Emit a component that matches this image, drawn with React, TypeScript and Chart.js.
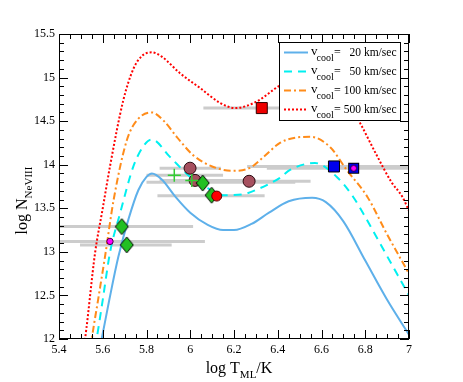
import React, { useEffect, useRef } from "react";
import { Chart, registerables } from "chart.js";

Chart.register(...registerables);

// ---------- axis ranges / ticks ----------
const X_MIN = 5.4;
const X_MAX = 7;
const Y_MIN = 12;
const Y_MAX = 15.5;
const X_MAJOR = 0.2;
const X_MINOR = 0.05;
const Y_MAJOR = 0.5;
const Y_MINOR = 0.1;

// ---------- model curves (log T, log N) ----------
const v20T = [5.585, 5.595, 5.63, 5.671, 5.717, 5.763, 5.8, 5.825, 5.87, 5.93, 6.0, 6.08, 6.15, 6.2, 6.28, 6.36, 6.45, 6.557, 6.62, 6.7, 6.8, 6.9, 7.0];
const v20N = [11.88, 12.0, 12.45, 12.94, 13.37, 13.71, 13.86, 13.9, 13.83, 13.64, 13.45, 13.31, 13.25, 13.25, 13.32, 13.45, 13.58, 13.62, 13.57, 13.35, 12.9, 12.45, 12.05];

const v50T = [5.565, 5.572, 5.6, 5.633, 5.68, 5.74, 5.785, 5.824, 5.907, 6.0, 6.08, 6.15, 6.24, 6.3, 6.41, 6.456, 6.57, 6.67, 6.745, 6.8, 6.9, 7.0];
const v50N = [11.9, 12.0, 12.45, 12.99, 13.45, 13.98, 14.21, 14.29, 14.09, 13.86, 13.73, 13.65, 13.66, 13.71, 13.85, 13.94, 14.02, 13.86, 13.63, 13.4, 12.95, 12.5];

const v100T = [5.545, 5.55, 5.58, 5.61, 5.65, 5.71, 5.76, 5.824, 5.88, 5.938, 6.013, 6.1, 6.19, 6.27, 6.34, 6.41, 6.48, 6.55, 6.64, 6.715, 6.81, 6.9, 7.0];
const v100N = [11.9, 12.0, 12.47, 12.94, 13.6, 14.28, 14.52, 14.6, 14.5, 14.32, 14.11, 13.98, 13.93, 13.96, 14.1, 14.25, 14.31, 14.32, 14.2, 13.94, 13.63, 13.2, 12.75];

const v500T = [5.512, 5.519, 5.565, 5.6, 5.633, 5.694, 5.74, 5.78, 5.824, 5.87, 5.953, 6.045, 6.136, 6.205, 6.3, 6.41, 6.5, 6.58, 6.66, 6.72, 6.776, 6.85, 6.92, 6.97, 7.0];
const v500N = [11.9, 12.0, 12.99, 13.5, 13.98, 14.74, 15.1, 15.25, 15.29, 15.24, 15.05, 14.88, 14.71, 14.65, 14.72, 14.91, 15.02, 15.03, 14.9, 14.72, 14.48, 14.12, 13.8, 13.63, 13.47];

// ---------- observations ----------
const roseT = [5.999, 6.022, 6.269];
const roseN = [13.96, 13.82, 13.81];
const plusT = [5.927, 6.007];
const plusN = [13.88, 13.82];
const diamondT = [5.687, 5.71, 6.057, 6.098];
const diamondN = [13.29, 13.08, 13.79, 13.65];
const redCircleT = [6.121];
const redCircleN = [13.64];
const magentaT = [5.633];
const magentaN = [13.12];
const redSquareT = [6.327];
const redSquareN = [14.65];
const blueSquareT = [6.657];
const blueSquareN = [13.98];
const blueDotSquareT = [6.747];
const blueDotSquareN = [13.96];

// horizontal temperature ranges
const rangeLo = [5.86, 5.8, 5.86, 5.8, 6.2, 5.85, 5.3, 5.3, 5.496, 6.06, 6.26, 6.35];
const rangeHi = [6.14, 6.15, 6.3, 6.48, 6.55, 6.34, 6.013, 6.067, 5.915, 6.45, 7.1, 7.1];
const rangeN = [13.96, 13.88, 13.82, 13.8, 13.81, 13.645, 13.29, 13.12, 13.08, 14.65, 13.98, 13.96];

// ---------- legend ----------
const legendValues = ["20 km/sec", "50 km/sec", "100 km/sec", "500 km/sec"];
const legendColors = ["#5eb0ea", "#00f0f0", "#ff8c1a", "#ff0000"];
const legendDashes: number[][] = [[], [8, 6], [7, 3, 2, 3], [2, 2]];
const legendWidths = [2, 2, 2, 2];

const SERIF = "'Liberation Serif', 'DejaVu Serif', serif";

const pts = (xs: number[], ys: number[]) => xs.map((x, i) => ({ x, y: ys[i] }));

function makeDiamond() {
  const c = document.createElement("canvas");
  c.width = 15;
  c.height = 18;
  const g = c.getContext("2d")!;
  g.beginPath();
  g.moveTo(7.5, 1);
  g.lineTo(14, 9);
  g.lineTo(7.5, 17);
  g.lineTo(1, 9);
  g.closePath();
  g.fillStyle = "#22c022";
  g.fill();
  g.strokeStyle = "#000";
  g.lineWidth = 1;
  g.stroke();
  return c;
}

function makeDotSquare() {
  const c = document.createElement("canvas");
  c.width = 13;
  c.height = 13;
  const g = c.getContext("2d")!;
  g.fillStyle = "#0000ee";
  g.fillRect(1, 1, 11, 11);
  g.strokeStyle = "#000";
  g.lineWidth = 1;
  g.strokeRect(1.5, 1.5, 10, 10);
  g.beginPath();
  g.arc(6.5, 6.5, 3, 0, Math.PI * 2);
  g.fillStyle = "#ff00ff";
  g.fill();
  g.lineWidth = 0.8;
  g.stroke();
  return c;
}

const framePlugin = {
  id: "frameTicks",
  afterDatasetsDraw(chart: any) {
    const { ctx, chartArea, scales } = chart;
    const { left, right, top, bottom } = chartArea;
    const xs = scales.x;
    const ys = scales.y;
    ctx.save();
    ctx.strokeStyle = "#000";
    ctx.lineWidth = 1;
    ctx.beginPath();
    const nX = Math.round((X_MAX - X_MIN) / X_MINOR);
    const perX = Math.round(X_MAJOR / X_MINOR);
    for (let i = 0; i <= nX; i++) {
      const px = Math.round(xs.getPixelForValue(X_MIN + i * X_MINOR)) + 0.5;
      const len = i % perX === 0 ? 9 : 5;
      ctx.moveTo(px, bottom);
      ctx.lineTo(px, bottom - len);
      ctx.moveTo(px, top);
      ctx.lineTo(px, top + len);
    }
    const nY = Math.round((Y_MAX - Y_MIN) / Y_MINOR);
    const perY = Math.round(Y_MAJOR / Y_MINOR);
    for (let i = 0; i <= nY; i++) {
      const py = Math.round(ys.getPixelForValue(Y_MIN + i * Y_MINOR)) + 0.5;
      const len = i % perY === 0 ? 9 : 5;
      ctx.moveTo(left, py);
      ctx.lineTo(left + len, py);
      ctx.moveTo(right, py);
      ctx.lineTo(right - len, py);
    }
    ctx.stroke();
    ctx.strokeRect(left + 0.5, top + 0.5, right - left - 1, bottom - top - 1);
    ctx.restore();
  },
  afterDraw(chart: any) {
    const { ctx, chartArea } = chart;
    const { left, right, top, bottom } = chartArea;
    ctx.save();
    ctx.fillStyle = "#000";
    ctx.textBaseline = "alphabetic";

    // x title: log T_ML/K
    const main = `16px ${SERIF}`;
    const sub = `11px ${SERIF}`;
    ctx.font = main;
    const w1 = ctx.measureText("log T").width;
    const w3 = ctx.measureText("/K").width;
    ctx.font = sub;
    const w2 = ctx.measureText("ML").width;
    const x0 = (left + right) / 2 + 5 - (w1 + w2 + w3) / 2;
    const yb = bottom + 34;
    ctx.font = main;
    ctx.fillText("log T", x0, yb);
    ctx.font = sub;
    ctx.fillText("ML", x0 + w1, yb + 5);
    ctx.font = main;
    ctx.fillText("/K", x0 + w1 + w2, yb);

    // y title: log N_NeVIII
    ctx.save();
    ctx.translate(left - 32, (top + bottom) / 2 + 14);
    ctx.rotate(-Math.PI / 2);
    ctx.font = main;
    const a1 = ctx.measureText("log N").width;
    ctx.font = sub;
    const a2 = ctx.measureText("NeVIII").width;
    const s0 = -(a1 + a2) / 2;
    ctx.font = main;
    ctx.fillText("log N", s0, 0);
    ctx.font = sub;
    ctx.fillText("NeVIII", s0 + a1, 5);
    ctx.restore();

    // legend
    const bx = right - 129.5;
    const by = top + 8.5;
    const bw = 121;
    const bh = 78;
    ctx.fillStyle = "#fff";
    ctx.fillRect(bx, by, bw, bh);
    ctx.strokeStyle = "#000";
    ctx.lineWidth = 1;
    ctx.strokeRect(bx, by, bw, bh);
    for (let i = 0; i < legendValues.length; i++) {
      const ry = by + 10 + i * 19;
      ctx.save();
      ctx.strokeStyle = legendColors[i];
      ctx.lineWidth = legendWidths[i];
      ctx.setLineDash(legendDashes[i]);
      ctx.beginPath();
      ctx.moveTo(bx + 4.5, ry);
      ctx.lineTo(bx + 28.5, ry);
      ctx.stroke();
      ctx.restore();
      ctx.fillStyle = "#000";
      ctx.font = `13px ${SERIF}`;
      ctx.textAlign = "left";
      ctx.fillText("v", bx + 31.5, ry + 2);
      ctx.font = `10px ${SERIF}`;
      ctx.fillText("cool", bx + 37, ry + 8);
      ctx.font = `12px ${SERIF}`;
      ctx.fillText("=", bx + 54.5, ry + 3);
      ctx.font = `11.5px ${SERIF}`;
      ctx.textAlign = "right";
      ctx.fillText(legendValues[i], bx + bw - 4, ry + 3);
      ctx.textAlign = "left";
    }
    ctx.restore();
  },
};

export default function App() {
  const ref = useRef<HTMLCanvasElement | null>(null);

  useEffect(() => {
    if (!ref.current) return;
    const diamond = makeDiamond();
    const dotSquare = makeDotSquare();

    const curve = (xs: number[], ys: number[], i: number) => ({
      label: legendValues[i],
      data: pts(xs, ys),
      showLine: true,
      borderColor: legendColors[i],
      borderWidth: legendWidths[i],
      borderDash: legendDashes[i],
      pointRadius: 0,
      cubicInterpolationMode: "monotone" as const,
      clip: 0,
      order: 10,
    });

    const ranges = rangeN.map((n, i) => ({
      label: "range" + i,
      data: [
        { x: rangeLo[i], y: n },
        { x: rangeHi[i], y: n },
      ],
      showLine: true,
      borderColor: "#cccccc",
      borderWidth: 3,
      pointRadius: 0,
      clip: 0,
      order: 20,
    }));

    const markers = (
      label: string,
      xs: number[],
      ys: number[],
      style: any,
      radius: number,
      fill: string,
      border: string,
      bw: number,
      order: number
    ) => ({
      label,
      data: pts(xs, ys),
      showLine: false,
      pointStyle: style,
      pointRadius: radius,
      pointBackgroundColor: fill,
      pointBorderColor: border,
      pointBorderWidth: bw,
      clip: false,
      order,
    });

    const chart = new Chart(ref.current, {
      type: "scatter",
      data: {
        datasets: [
          markers("rose", roseT, roseN, "circle", 6, "#a6505f", "#2a0a10", 1, 6),
          markers("diamond", diamondT, diamondN, diamond, 8, "#22c022", "#000", 1, 5),
          markers("plus", plusT, plusN, "cross", 6.5, "#33cc33", "#33cc33", 1.5, 4),
          markers("redCircle", redCircleT, redCircleN, "circle", 5, "#ff0000", "#600000", 1, 3),
          markers("magenta", magentaT, magentaN, "circle", 3.2, "#ff00ff", "#400040", 1, 2),
          markers("redSquare", redSquareT, redSquareN, "rect", 7.8, "#ee0000", "#300000", 1, 2),
          markers("blueSquare", blueSquareT, blueSquareN, "rect", 7.8, "#0000ee", "#000", 1, 2),
          markers("blueDotSquare", blueDotSquareT, blueDotSquareN, dotSquare, 7, "#0000ee", "#000", 1, 2),
          curve(v20T, v20N, 0),
          curve(v50T, v50N, 1),
          curve(v100T, v100N, 2),
          curve(v500T, v500N, 3),
          ...ranges,
        ] as any,
      },
      options: {
        animation: false,
        responsive: false,
        devicePixelRatio: 1,
        layout: { padding: { left: 0, top: 34, right: 54, bottom: 0 } },
        plugins: { legend: { display: false }, tooltip: { enabled: false } },
        events: [],
        scales: {
          x: {
            type: "linear",
            min: X_MIN,
            max: X_MAX,
            position: "bottom",
            grid: { display: false, drawTicks: false },
            border: { display: false },
            ticks: {
              stepSize: X_MAJOR,
              padding: 4,
              color: "#000",
              font: { family: SERIF, size: 12 },
              maxRotation: 0,
              autoSkip: false,
              callback: (v: any) => String(Math.round(Number(v) * 10) / 10),
            },
            afterFit: (s: any) => {
              s.height = 43;
            },
          },
          y: {
            type: "linear",
            min: Y_MIN,
            max: Y_MAX,
            position: "left",
            grid: { display: false, drawTicks: false },
            border: { display: false },
            ticks: {
              stepSize: Y_MAJOR,
              padding: 4,
              color: "#000",
              font: { family: SERIF, size: 12 },
              autoSkip: false,
              callback: (v: any) => String(Math.round(Number(v) * 10) / 10),
            },
            afterFit: (s: any) => {
              s.width = 59;
            },
          },
        },
      } as any,
      plugins: [framePlugin],
    });
    return () => chart.destroy();
  }, []);

  return (
    <div style={{ position: "absolute", left: 0, top: 0, width: 463, height: 382, background: "#fff" }}>
      <canvas ref={ref} width={463} height={382} style={{ display: "block" }} />
    </div>
  );
}
